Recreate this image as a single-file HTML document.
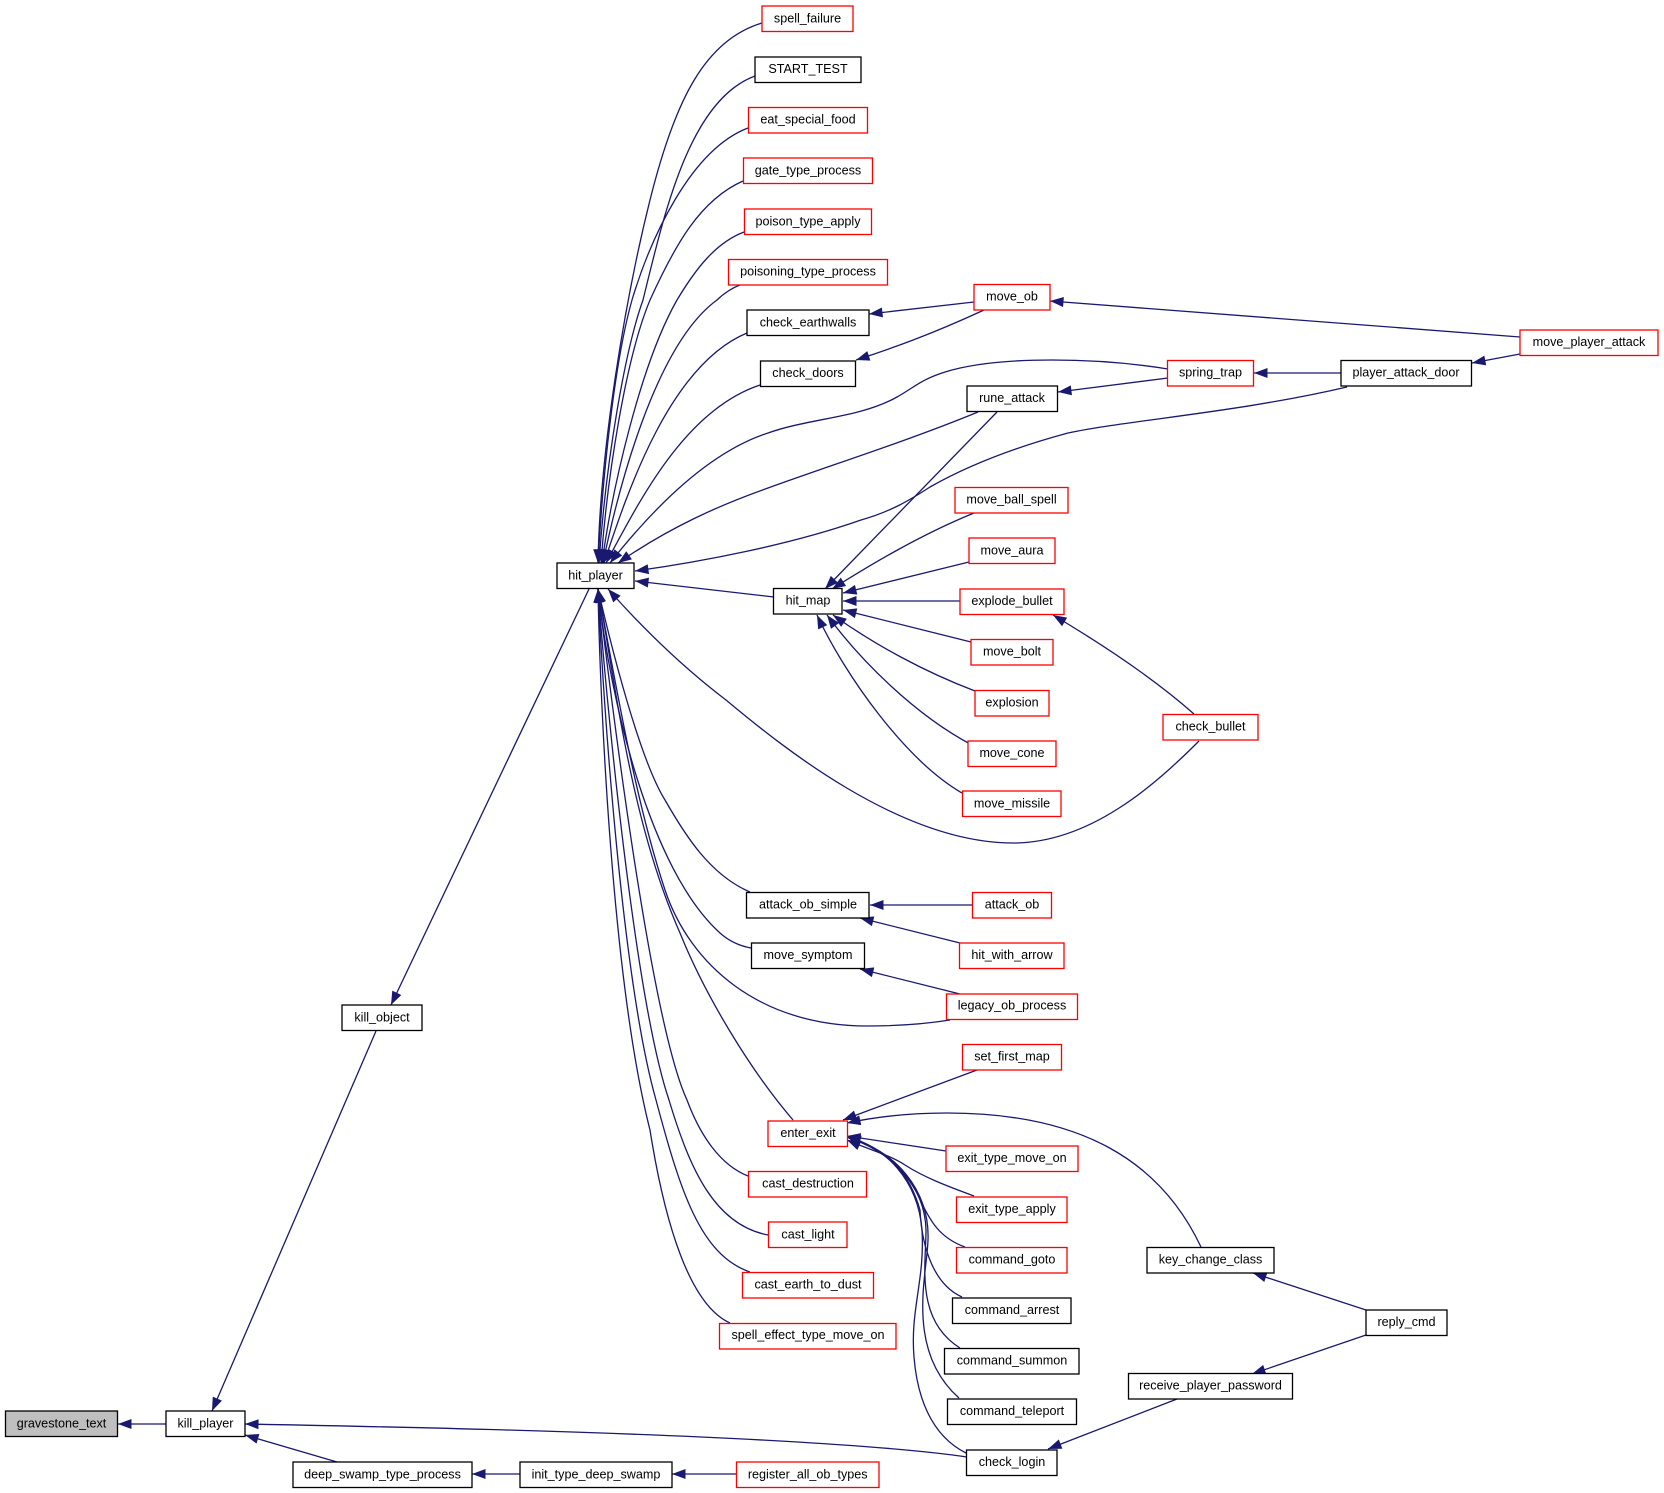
<!DOCTYPE html>
<html><head><meta charset="utf-8"><style>
html,body{margin:0;padding:0;background:#fff}
svg{display:block}
text{font-family:"Liberation Sans",sans-serif;font-size:12.6px;text-anchor:middle;fill:#000;transform:translateY(-.5px)}
.n rect{fill:#fff;stroke:#000;stroke-width:1.3}
.r rect{fill:#fff;stroke:#f00;stroke-width:1.3}
.e path{fill:none;stroke:#191970;stroke-width:1.3;marker-start:url(#a)}
</style></head><body>
<svg width="1664" height="1493" viewBox="0 0 1664 1493" xmlns="http://www.w3.org/2000/svg">
<defs><marker id="a" markerUnits="userSpaceOnUse" markerWidth="14" markerHeight="10" refX="0" refY="5" orient="auto" viewBox="0 0 14 10"><path d="M0,5L13.5,0V10Z" fill="#191970"/></marker></defs>
<g class="e">
<path d="M118,1424H166"/>
<path d="M212,1411L376,1031"/>
<path d="M391,1005L589,589"/>
<path d="M245,1424C400,1427 600,1431 780,1441C850,1445 920,1450 967,1457"/>
<path d="M245,1435L337,1462"/>
<path d="M472,1474H520"/>
<path d="M672,1474H737"/>
<path d="M598,563C600,450 625,300 650,200C675,100 705,40 762,23"/>
<path d="M599,563C606,460 625,350 643,300C665,210 690,100 755,76"/>
<path d="M598,563C603,470 615,360 632,300C650,240 690,150 748,128"/>
<path d="M601,563C607,480 625,360 650,300C675,245 700,200 743,181"/>
<path d="M602,563C612,490 640,365 677,300C695,270 715,243 744,232"/>
<path d="M603,563C618,490 655,345 717,300C723,294 732,288 740,285"/>
<path d="M604,563C628,490 670,365 747,333"/>
<path d="M606,563C640,500 685,410 760,385"/>
<path d="M610,563C640,525 700,455 768,433C810,418 860,418 897,397C915,387 920,380 945,372C1000,355 1100,358 1168,369"/>
<path d="M618,563C670,527 720,505 768,488C840,462 910,440 978,412"/>
<path d="M635,571C700,562 790,545 861,520C890,512 910,500 930,487C960,470 1005,450 1068,433C1130,420 1240,412 1347,387"/>
<path d="M635,581L774,597"/>
<path d="M608,589C640,625 680,665 726,700C780,745 900,843 1013,843C1090,843 1155,785 1199,741"/>
<path d="M598,589C600,700 612,980 650,1130C665,1225 690,1305 730,1323"/>
<path d="M598,589C603,700 622,980 656,1100C680,1190 700,1255 750,1272"/>
<path d="M598,589C606,700 635,1000 669,1100C690,1170 715,1225 768,1235"/>
<path d="M598,589C610,690 650,1020 687,1100C700,1135 720,1165 748,1176"/>
<path d="M598,589C615,680 630,820 680,933C705,995 750,1070 793,1120"/>
<path d="M598,589C615,680 635,800 665,890C690,965 760,1026 867,1026C895,1026 925,1024 950,1020"/>
<path d="M598,589C610,700 650,870 720,933C730,942 740,946 751,948"/>
<path d="M598,589C612,650 640,760 665,800C685,835 710,875 750,892"/>
<path d="M869,314L974,302"/>
<path d="M856,360C890,349 930,335 984,310"/>
<path d="M1050,301L1520,337"/>
<path d="M1472,363L1520,354"/>
<path d="M1254,373H1341"/>
<path d="M1058,392L1168,378"/>
<path d="M825,589L997,412"/>
<path d="M832,589C870,565 920,535 974,513"/>
<path d="M843,593L969,562"/>
<path d="M843,601H960"/>
<path d="M843,610L971,642"/>
<path d="M833,615C875,645 925,672 975,691"/>
<path d="M827,615C860,660 915,715 972,745"/>
<path d="M817,615C845,675 905,760 962,793"/>
<path d="M1053,615C1095,640 1150,675 1194,714"/>
<path d="M870,905H972"/>
<path d="M860,918L960,943"/>
<path d="M860,969L960,994"/>
<path d="M843,1120L977,1070"/>
<path d="M847,1123C880,1116 915,1113 947,1113C1080,1113 1160,1160 1201,1247"/>
<path d="M847,1136L946,1151"/>
<path d="M847,1140C870,1150 890,1155 905,1165C925,1178 950,1187 974,1196"/>
<path d="M847,1137C885,1150 905,1170 918,1195C930,1222 940,1238 965,1247"/>
<path d="M847,1137C890,1150 910,1175 920,1210C922,1250 935,1285 962,1297"/>
<path d="M847,1137C890,1150 925,1185 926,1230C926,1265 915,1320 960,1348"/>
<path d="M847,1137C895,1150 930,1190 928,1240C927,1275 905,1350 959,1398"/>
<path d="M847,1137C885,1146 918,1180 922,1230C925,1280 910,1310 914,1357C917,1395 930,1435 966,1453"/>
<path d="M1253,1273L1366,1310"/>
<path d="M1252,1374L1366,1335"/>
<path d="M1048,1449L1177,1399"/>
</g>
<g class="n"><rect x="5.5" y="1411" width="112" height="25.5" style="fill:#bfbfbf"/><text x="61.5" y="1428">gravestone_text</text></g>
<g class="n"><rect x="166" y="1411" width="79" height="25.5"/><text x="205.5" y="1428">kill_player</text></g>
<g class="n"><rect x="293" y="1462" width="179" height="25.5"/><text x="382.5" y="1479">deep_swamp_type_process</text></g>
<g class="n"><rect x="342" y="1005" width="80" height="25.5"/><text x="382" y="1022">kill_object</text></g>
<g class="n"><rect x="557" y="563" width="77" height="25.5"/><text x="595.5" y="580">hit_player</text></g>
<g class="n"><rect x="520" y="1462" width="152" height="25.5"/><text x="596" y="1479">init_type_deep_swamp</text></g>
<g class="r"><rect x="736.5" y="1462" width="142.5" height="25.5"/><text x="807.7" y="1479">register_all_ob_types</text></g>
<g class="r"><rect x="762" y="6" width="91" height="25.5"/><text x="807.5" y="23">spell_failure</text></g>
<g class="n"><rect x="755" y="57" width="106" height="25.5"/><text x="808" y="73.5">START_TEST</text></g>
<g class="r"><rect x="748.5" y="107.5" width="119" height="25.5"/><text x="808" y="124">eat_special_food</text></g>
<g class="r"><rect x="743.5" y="158" width="129" height="25.5"/><text x="808" y="175">gate_type_process</text></g>
<g class="r"><rect x="744.5" y="209" width="127" height="25.5"/><text x="808" y="226">poison_type_apply</text></g>
<g class="r"><rect x="728.5" y="259.5" width="159" height="25.5"/><text x="808" y="276">poisoning_type_process</text></g>
<g class="n"><rect x="747" y="310" width="122" height="25.5"/><text x="808" y="327">check_earthwalls</text></g>
<g class="n"><rect x="760.5" y="361" width="95" height="25.5"/><text x="808" y="377.5">check_doors</text></g>
<g class="r"><rect x="974" y="284.5" width="76" height="25.5"/><text x="1012" y="301">move_ob</text></g>
<g class="n"><rect x="967" y="386" width="90.5" height="25.5"/><text x="1012" y="402.5">rune_attack</text></g>
<g class="r"><rect x="1167.5" y="360.5" width="86" height="25.5"/><text x="1210.5" y="377">spring_trap</text></g>
<g class="n"><rect x="1341" y="360.5" width="130.5" height="25.5"/><text x="1406" y="377">player_attack_door</text></g>
<g class="r"><rect x="1520" y="330" width="138" height="25.5"/><text x="1589" y="346.5">move_player_attack</text></g>
<g class="n"><rect x="773.5" y="588.5" width="68.5" height="25.5"/><text x="808" y="605">hit_map</text></g>
<g class="r"><rect x="955" y="487.5" width="113" height="25.5"/><text x="1011.5" y="504">move_ball_spell</text></g>
<g class="r"><rect x="969" y="538" width="86" height="25.5"/><text x="1012" y="555">move_aura</text></g>
<g class="r"><rect x="960" y="589" width="104" height="25.5"/><text x="1012" y="605.5">explode_bullet</text></g>
<g class="r"><rect x="971" y="639.5" width="82" height="25.5"/><text x="1012" y="656">move_bolt</text></g>
<g class="r"><rect x="975" y="690.5" width="74" height="25.5"/><text x="1012" y="707">explosion</text></g>
<g class="r"><rect x="968" y="741" width="88" height="25.5"/><text x="1012" y="757.5">move_cone</text></g>
<g class="r"><rect x="962.5" y="791" width="98.5" height="25.5"/><text x="1012" y="808">move_missile</text></g>
<g class="r"><rect x="1163" y="714.5" width="95" height="25.5"/><text x="1210.5" y="731">check_bullet</text></g>
<g class="n"><rect x="746.5" y="892.5" width="122.5" height="25.5"/><text x="808" y="909">attack_ob_simple</text></g>
<g class="n"><rect x="751.5" y="943" width="113" height="25.5"/><text x="808" y="959.5">move_symptom</text></g>
<g class="r"><rect x="972.5" y="892.5" width="79" height="25.5"/><text x="1012" y="909">attack_ob</text></g>
<g class="r"><rect x="959.5" y="943" width="104.5" height="25.5"/><text x="1012" y="959.5">hit_with_arrow</text></g>
<g class="r"><rect x="946.5" y="994" width="131" height="25.5"/><text x="1012" y="1010">legacy_ob_process</text></g>
<g class="r"><rect x="962.5" y="1044.5" width="99" height="25.5"/><text x="1012" y="1061">set_first_map</text></g>
<g class="r"><rect x="768" y="1121" width="79.5" height="25.5"/><text x="808" y="1137.5">enter_exit</text></g>
<g class="r"><rect x="748.5" y="1171.5" width="118" height="25.5"/><text x="808" y="1188">cast_destruction</text></g>
<g class="r"><rect x="768.5" y="1222" width="78.5" height="25.5"/><text x="808" y="1239">cast_light</text></g>
<g class="r"><rect x="742.5" y="1272.5" width="131" height="25.5"/><text x="808" y="1289">cast_earth_to_dust</text></g>
<g class="r"><rect x="719.5" y="1323.5" width="176.5" height="25.5"/><text x="808" y="1339.5">spell_effect_type_move_on</text></g>
<g class="r"><rect x="946" y="1146" width="132" height="25.5"/><text x="1012" y="1162.5">exit_type_move_on</text></g>
<g class="r"><rect x="956.5" y="1197" width="110.5" height="25.5"/><text x="1012" y="1213.5">exit_type_apply</text></g>
<g class="r"><rect x="956.5" y="1247.5" width="110.5" height="25.5"/><text x="1012" y="1264">command_goto</text></g>
<g class="n"><rect x="952.5" y="1298" width="118.5" height="25.5"/><text x="1012" y="1314.5">command_arrest</text></g>
<g class="n"><rect x="944.5" y="1348.5" width="134.5" height="25.5"/><text x="1012" y="1365">command_summon</text></g>
<g class="n"><rect x="947.5" y="1399" width="129" height="25.5"/><text x="1012" y="1415.5">command_teleport</text></g>
<g class="n"><rect x="966.5" y="1450" width="90.5" height="25.5"/><text x="1012" y="1466.5">check_login</text></g>
<g class="n"><rect x="1147" y="1247.5" width="127" height="25.5"/><text x="1210.5" y="1264">key_change_class</text></g>
<g class="n"><rect x="1128.5" y="1373.5" width="164" height="25.5"/><text x="1210.5" y="1390">receive_player_password</text></g>
<g class="n"><rect x="1366" y="1310" width="81" height="25.5"/><text x="1406.5" y="1326.5">reply_cmd</text></g>
</svg>
</body></html>
